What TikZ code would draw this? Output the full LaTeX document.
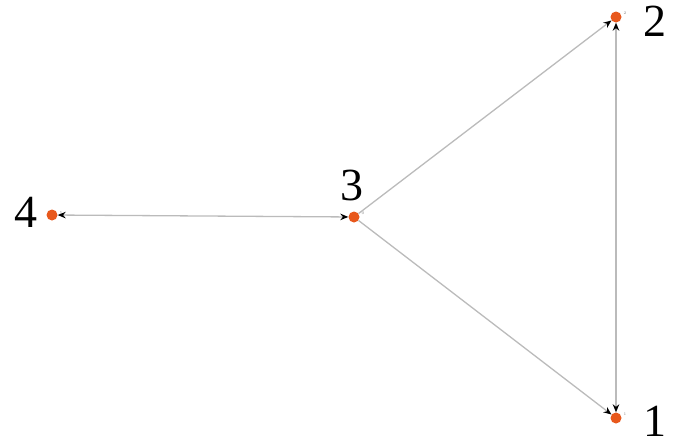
\documentclass[tikz,border=0pt]{standalone}
\usepackage{fontspec}
\newfontfamily\numfont{Liberation Serif}
\usetikzlibrary{arrows.meta}
\definecolor{dotc}{HTML}{E8581C}
\definecolor{edgec}{HTML}{BBBBBB}
\tikzset{
  vert/.style={circle,fill=dotc,inner sep=0pt,minimum size=11pt},
  big/.style={font=\numfont\fontsize{46}{46}\selectfont,inner sep=0pt},
  tiny/.style={font=\fontsize{4}{4}\selectfont,text=gray,inner sep=0pt},
  conn/.style={draw=edgec,line width=1.3pt,-{Stealth[length=8pt,width=6.5pt,black]}},
  bconn/.style={draw=edgec,line width=1.3pt,{Stealth[length=8pt,width=6.5pt,black]}-{Stealth[length=8pt,width=6.5pt,black]}}
}
\begin{document}
\begin{tikzpicture}[x=1pt,y=-1pt]
\useasboundingbox (0,0) rectangle (675,447);
\node[vert] (n2) at (616,17) {};
\node[vert] (n1) at (616,418) {};
\node[vert] (n3) at (354,217) {};
\node[vert] (n4) at (52,215) {};
\node[big] (l2) at (655,21) {2};
\node[big] (l1) at (655,421) {1};
\node[big] (l3) at (352,185) {3};
\node[big] (l4) at (26,212) {4};
\node[tiny] (t2) at (625,13) {2};
\node[tiny] (t1) at (625,414) {1};
\node[tiny] (t3) at (363,213) {0};
\node[tiny] (t4) at (61,213) {5};
\draw[conn] (n3) -- (n2);
\draw[conn] (n3) -- (n1);
\draw[bconn] (n1) -- (n2);
\draw[bconn] (n4) -- (n3);
\end{tikzpicture}
\end{document}
